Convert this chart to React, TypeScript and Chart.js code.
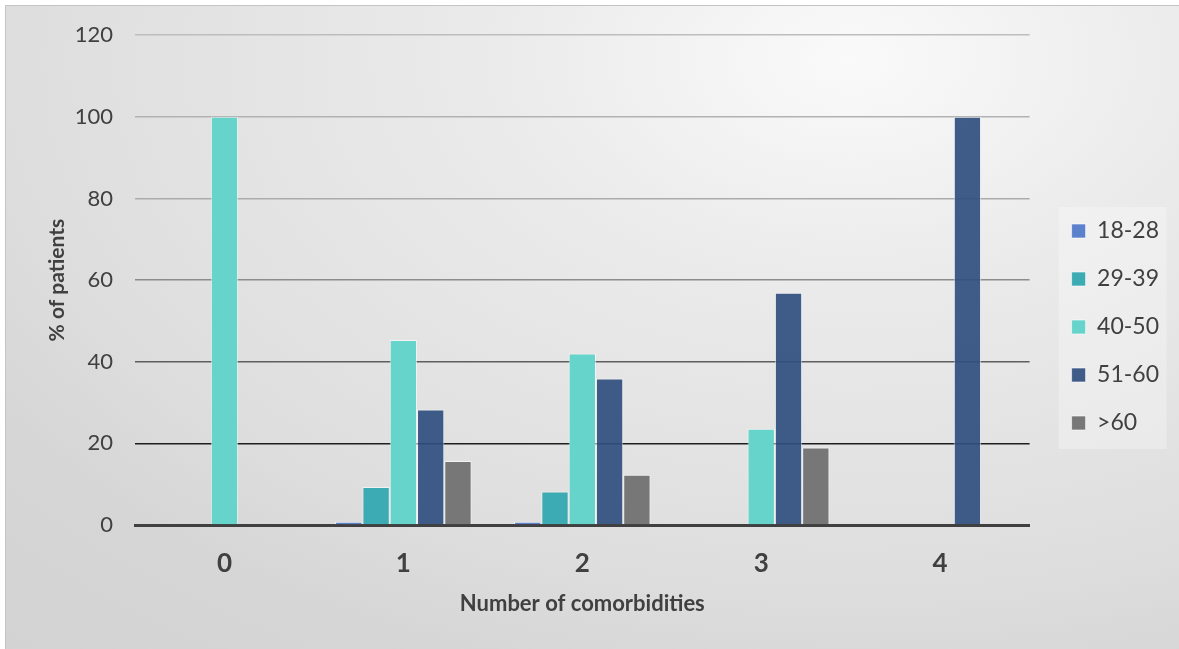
import React, { useEffect, useRef } from "react";
import { Chart, registerables } from "chart.js";

Chart.register(...registerables);

const categories = ["0", "1", "2", "3", "4"];
const seriesNames = ["18-28", "29-39", "40-50", "51-60", ">60"];
const age18to28 = [0, 0.8, 0.8, 0, 0];
const age29to39 = [0, 9.3, 8.2, 0, 0];
const age40to50 = [100, 45.3, 42.0, 23.6, 0];
const age51to60 = [0, 28.3, 35.9, 56.9, 100];
const ageOver60 = [0, 15.7, 12.3, 19.0, 0];
const yTicks = [0, 20, 40, 60, 80, 100, 120];

const seriesColors = [
  "#5b80cc",
  "#3cabb4",
  "#66d4ca",
  "rgba(48,78,127,0.92)",
  "#777777",
];

const gridColors: Record<number, string> = {
  0: "rgba(0,0,0,0)",
  20: "#1e1e1e",
  40: "#5e5e5e",
  60: "#8c8c8c",
  80: "#ababab",
  100: "#b2b2b2",
  120: "#bdbdbd",
};

const FONT = "Lato, 'Open Sans', sans-serif";

const bgPlugin = {
  id: "bgPlugin",
  beforeDraw(chart: any) {
    const ctx = chart.ctx as CanvasRenderingContext2D;
    const w = chart.width;
    const h = chart.height;
    ctx.save();
    ctx.fillStyle = "#ffffff";
    ctx.fillRect(0, 0, w, h);
    ctx.beginPath();
    ctx.rect(5, 5, w, h);
    ctx.clip();
    ctx.translate(850, 60);
    ctx.scale(1.6, 1);
    const g = ctx.createRadialGradient(0, 0, 0, 0, 0, 800);
    g.addColorStop(0, "#fafafa");
    g.addColorStop(0.27, "#ebebeb");
    g.addColorStop(0.65, "#dedede");
    g.addColorStop(0.8, "#d6d6d6");
    g.addColorStop(1, "#d3d3d3");
    ctx.fillStyle = g;
    ctx.fillRect(-2000, -2000, 4000, 4000);
    ctx.restore();

    ctx.save();
    ctx.strokeStyle = "#c4c4c4";
    ctx.lineWidth = 1;
    ctx.beginPath();
    ctx.moveTo(5.5, h);
    ctx.lineTo(5.5, 5.5);
    ctx.lineTo(w, 5.5);
    ctx.stroke();
    ctx.restore();

    const lg = chart.legend;
    if (lg && lg.legendHitBoxes && lg.legendHitBoxes.length) {
      const hb = lg.legendHitBoxes;
      const first = hb[0];
      const last = hb[hb.length - 1];
      const x0 = first.left - 13;
      const y0 = first.top + first.height / 2 - 24;
      const y1 = last.top + last.height / 2 + 26;
      ctx.save();
      ctx.fillStyle = "rgba(255,255,255,0.28)";
      ctx.fillRect(x0, y0, 108, y1 - y0);
      ctx.restore();
    }
  },
};

export default function App() {
  const ref = useRef<HTMLCanvasElement | null>(null);

  useEffect(() => {
    if (!ref.current) return;
    const seriesData = [age18to28, age29to39, age40to50, age51to60, ageOver60];
    const chart = new Chart(ref.current, {
      type: "bar",
      data: {
        labels: categories,
        datasets: seriesNames.map((name, i) => ({
          label: name,
          data: seriesData[i],
          backgroundColor: seriesColors[i],
          borderColor: "rgba(255,255,255,0.6)",
          borderWidth: 1,
          categoryPercentage: 0.763,
          barPercentage: 1,
          yAxisID: "y",
        })),
      },
      options: {
        responsive: false,
        animation: false,
        layout: { padding: { top: 34, bottom: 29, left: 0, right: 10 } },
        plugins: {
          legend: {
            position: "right",
            labels: {
              font: { family: FONT, size: 23 },
              color: "#404040",
              boxWidth: 14,
              boxHeight: 14,
              padding: 25,
            },
          },
          tooltip: { enabled: false },
          title: { display: false },
        },
        scales: {
          x: {
            z: 1,
            grid: { display: false, drawTicks: false },
            border: { display: true, color: "#404040", width: 3 },
            ticks: {
              color: "#404040",
              font: { family: FONT, size: 26, weight: "bold" },
              padding: 23,
            },
            title: {
              display: true,
              text: "Number of comorbidities",
              color: "#404040",
              font: { family: FONT, size: 22, weight: "bold" },
              padding: { top: 0, bottom: 3 },
            },
            afterFit(s: any) {
              s.height = 95;
            },
          },
          y: {
            min: 0,
            max: 120,
            afterBuildTicks(s: any) {
              s.ticks = yTicks.map((v) => ({ value: v }));
            },
            grid: {
              drawTicks: false,
              lineWidth: 1.5,
              color: (c: any) => gridColors[c.tick?.value] ?? "#b0b0b0",
            },
            border: { display: false },
            ticks: {
              color: "#404040",
              font: { family: FONT, size: 22 },
              padding: 22,
            },
            title: {
              display: true,
              text: "% of patients",
              color: "#404040",
              font: { family: FONT, size: 21, weight: "bold" },
              padding: { top: 45, bottom: 0 },
            },
            afterFit(s: any) {
              s.width = 135;
            },
          },
          yR: {
            position: "right",
            display: true,
            grid: { display: false, drawTicks: false },
            border: { display: false },
            ticks: { display: false },
            afterFit(s: any) {
              s.width = 17;
            },
          },
        },
      },
      plugins: [bgPlugin],
    } as any);
    return () => chart.destroy();
  }, []);

  return (
    <div style={{ position: "absolute", left: 0, top: 0, width: 1179, height: 649 }}>
      <canvas ref={ref} width={1179} height={649} style={{ display: "block" }} />
    </div>
  );
}
